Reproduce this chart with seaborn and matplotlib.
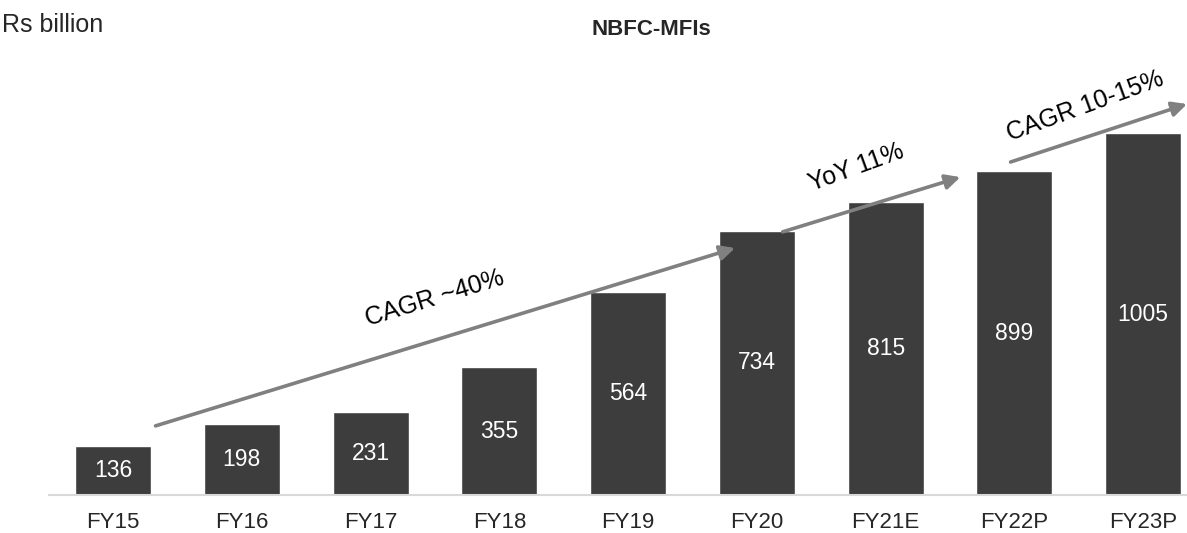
import numpy as np
import pandas as pd
import matplotlib
matplotlib.use('Agg')
import matplotlib.pyplot as plt
import seaborn as sns

# data (Rs billion)
years = ['FY15', 'FY16', 'FY17', 'FY18', 'FY19', 'FY20', 'FY21E', 'FY22P', 'FY23P']
portfolio = [136, 198, 231, 355, 564, 734, 815, 899, 1005]

# growth call-outs: (text, arrow start, arrow end, text position, rotation)
growth_text = ['CAGR ~40%', 'YoY 11%', 'CAGR 10-15%']
arrow_from = [(0.33, 192), (5.20, 731), (6.97, 925)]
arrow_to = [(4.83, 686), (6.58, 883), (8.34, 1086)]
text_at = [(2.50, 547), (5.77, 910), (7.55, 1081)]
text_rot = [17, 20, 20]

sns.set_style('white')
plt.rcParams['font.family'] = ['Liberation Sans', 'DejaVu Sans']

df = pd.DataFrame({'year': years, 'value': portfolio})

fig = plt.figure(figsize=(11.87, 5.33), dpi=100)
ax = fig.add_axes([0.041, 0.0713, 0.959, 0.8105])

sns.barplot(data=df, x='year', y='value', color='#3d3d3d', saturation=1,
            width=0.59, ax=ax)

# value labels in the middle of each bar
ax.bar_label(ax.containers[0], labels=[str(v) for v in portfolio],
             label_type='center', color='white', fontsize=16.5)

ax.set_xlim(-0.5, 8.34)
ax.set_ylim(0, 1200)
ax.set_xlabel('')
ax.set_ylabel('')
ax.set_yticks([])
ax.tick_params(axis='x', length=0, pad=12, labelsize=16)

for s in ['top', 'right', 'left']:
    ax.spines[s].set_visible(False)
ax.spines['bottom'].set_color('#d9d9d9')
ax.spines['bottom'].set_linewidth(1.5)

# arrows and growth text
for t, a0, a1, p, r in zip(growth_text, arrow_from, arrow_to, text_at, text_rot):
    ax.annotate('', xy=a1, xytext=a0, annotation_clip=False,
                arrowprops=dict(arrowstyle='-|>', color='#808080', lw=2.6,
                                mutation_scale=22, shrinkA=0, shrinkB=0))
    ax.text(p[0], p[1], t, rotation=r, rotation_mode='anchor', ha='center',
            va='center', fontsize=18, color='black', clip_on=False)

fig.text(0.002, 0.94, 'Rs billion', fontsize=18, ha='left', va='baseline')
fig.text(0.549, 0.934, 'NBFC-MFIs', fontsize=16, fontweight='bold',
         ha='center', va='baseline')

plt.savefig('out.png', dpi=100)
